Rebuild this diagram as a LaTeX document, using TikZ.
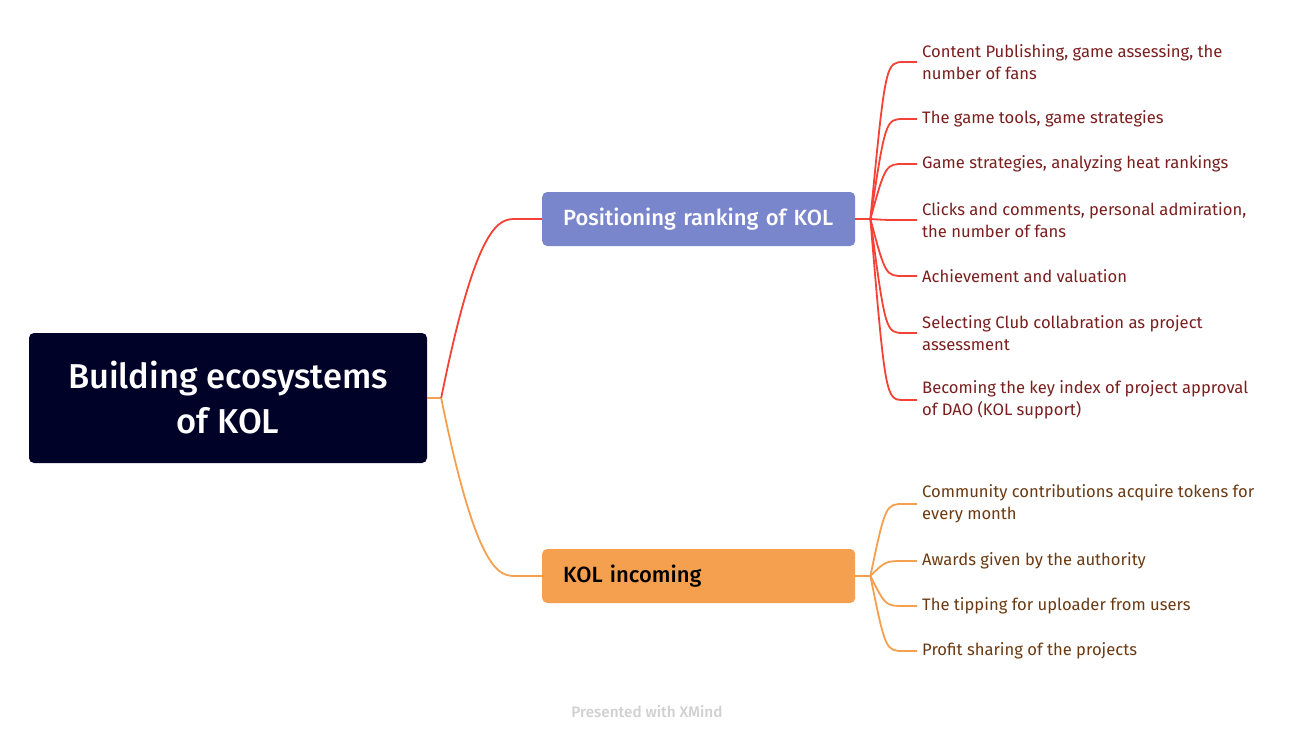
\documentclass[tikz,border=0pt]{standalone}
\usepackage{fontspec}
\setmainfont{Fira Sans}
\newfontfamily\medfont{Fira Sans Medium}
\usetikzlibrary{calc}
\definecolor{rootfill}{RGB}{0,2,40}
\definecolor{mainA}{RGB}{121,134,203}
\definecolor{mainB}{RGB}{245,160,78}
\definecolor{lineR}{RGB}{244,67,54}
\definecolor{lineO}{RGB}{245,160,78}
\definecolor{txtR}{RGB}{122,30,30}
\definecolor{txtO}{RGB}{107,58,18}
\definecolor{credit}{RGB}{208,208,208}
\tikzset{
  rootbox/.style={fill=rootfill, rounded corners=5pt, minimum width=398, minimum height=130, text=white, align=center, font=\fontsize{34.5}{45}\selectfont\medfont},
  mainbox/.style={rounded corners=5pt, minimum height=54, text width=271, inner xsep=21, align=left, anchor=west, font=\fontsize{22}{26}\selectfont\medfont},
  childR/.style={anchor=west, inner sep=0, align=left, text=txtR, font=\fontsize{16.6}{22.5}\selectfont},
  childO/.style={anchor=west, inner sep=0, align=left, text=txtO, font=\fontsize{16.6}{22.5}\selectfont},
  redline/.style={draw=lineR, line width=1.8pt},
  orangeline/.style={draw=lineO, line width=1.8pt},
}
\begin{document}
\begin{tikzpicture}[x=1pt,y=-1pt]
\useasboundingbox (0,0) rectangle (1294,744);
\fill[white] (0,0) rectangle (1294,744);

\node[rootbox] (root) at (228,398) {Building ecosystems\\ of KOL};
\node[mainbox, fill=mainA, text=white] (m1) at (542,219) {Positioning ranking of KOL};
\node[mainbox, fill=mainB, text=black] (m2) at (542,576) {KOL incoming};

% red children
\node[childR] (r1) at (922,62) {Content Publishing, game assessing, the\\number of fans};
\node[childR] (r2) at (922,119) {The game tools, game strategies};
\node[childR] (r3) at (922,164) {Game strategies, analyzing heat rankings};
\node[childR] (r4) at (922,220) {Clicks and comments, personal admiration,\\the number of fans};
\node[childR] (r5) at (922,276) {Achievement and valuation};
\node[childR] (r6) at (922,333) {Selecting Club collabration as project\\assessment};
\node[childR] (r7) at (922,400) {Becoming the key index of project approval\\of DAO (KOL support)};

% orange children
\node[childO] (o1) at (922,504) {Community contributions acquire tokens for\\every month};
\node[childO] (o2) at (922,561) {Awards given by the authority};
\node[childO] (o3) at (922,606) {The tipping for uploader from users};
\node[childO] (o4) at (922,651) {Profit sharing of the projects};

\node[text=credit, font=\fontsize{15.3}{17}\selectfont\medfont] (cr) at (647,712) {Presented with XMind};

% root connectors
\draw[orangeline] (root.east) -- ++(14,0) coordinate (hubL);
\draw[redline] (hubL) .. controls ($(hubL|-m1.west)+(36,0)$) and ($(m1.west)+(-42,0)$) .. ($(m1.west)+(-26,0)$) -- (m1.west);
\draw[orangeline] (hubL) .. controls ($(hubL|-m2.west)+(36,0)$) and ($(m2.west)+(-42,0)$) .. ($(m2.west)+(-26,0)$) -- (m2.west);

% red branch
\draw[redline] (m1.east) -- ++(15,0) coordinate (hubR);
\foreach \c in {r1,r2,r3,r4,r5,r6,r7}{
  \draw[redline] (hubR) .. controls ($(hubR|-\c.west)+(15,0)$) and ($(\c.west)+(-36,0)$) .. ($(\c.west)+(-18,0)$) -- ($(\c.west)+(-5,0)$);
}
% orange branch
\draw[orangeline] (m2.east) -- ++(15,0) coordinate (hubO);
\foreach \c in {o1,o2,o3,o4}{
  \draw[orangeline] (hubO) .. controls ($(hubO|-\c.west)+(15,0)$) and ($(\c.west)+(-36,0)$) .. ($(\c.west)+(-18,0)$) -- ($(\c.west)+(-5,0)$);
}
\end{tikzpicture}
\end{document}
